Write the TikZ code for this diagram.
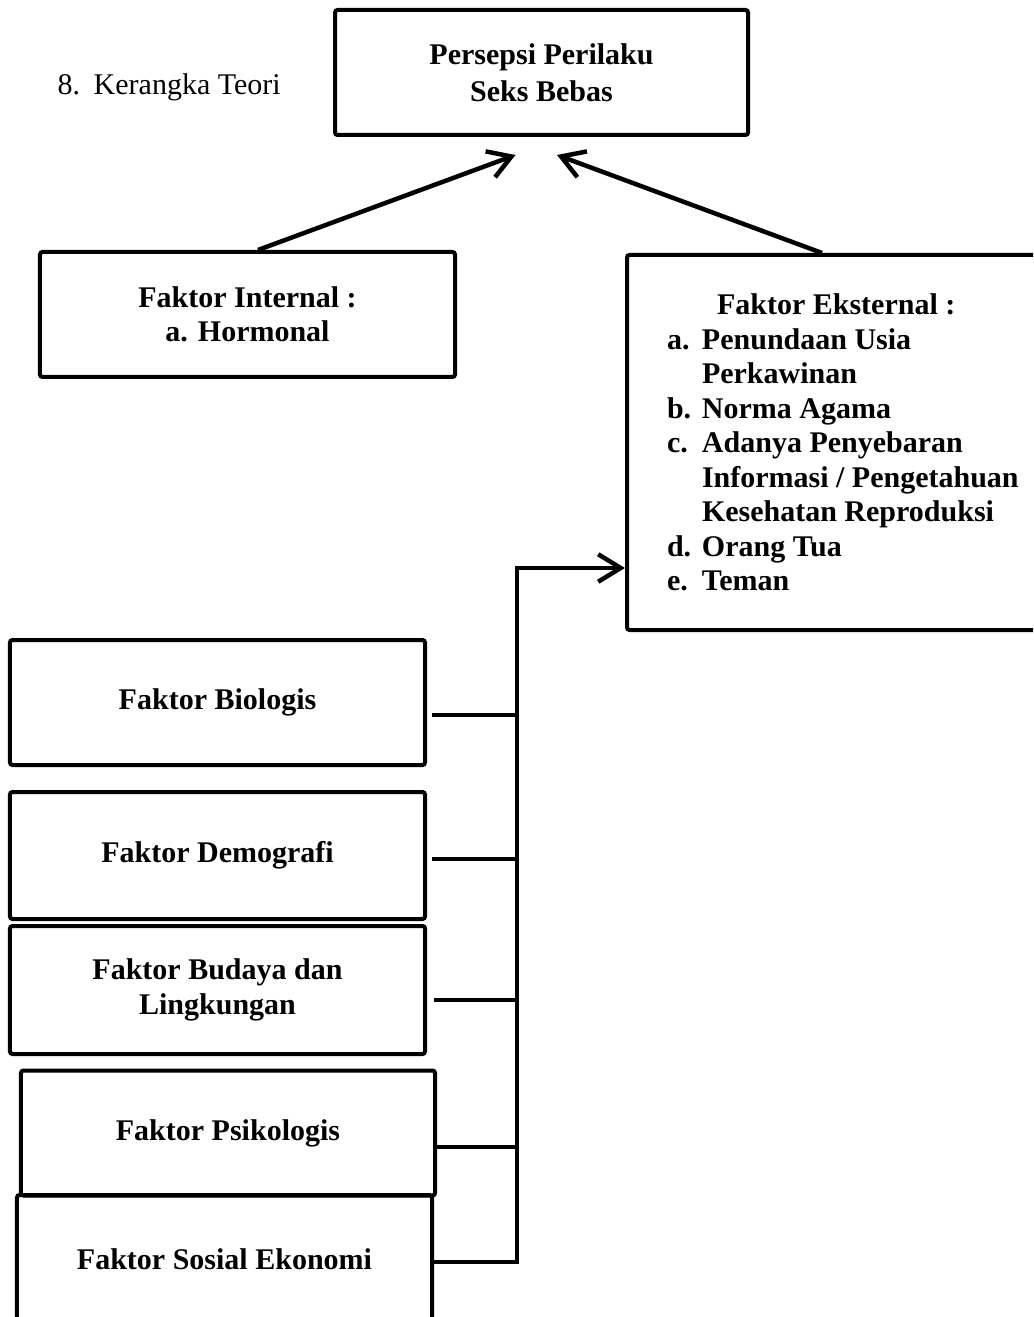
\documentclass[tikz,border=0pt]{standalone}
\usepackage{fontspec}
\setmainfont{Liberation Serif}
\usetikzlibrary{calc,arrows.meta}

\newcommand{\ukuran}{\fontsize{12}{13.8}\selectfont}
\newcommand{\butir}[2]{\makebox[14pt][l]{#1}#2}

\begin{document}
\begin{tikzpicture}[x=0.4pt, y=-0.4pt, font=\ukuran,
		kotak/.style={draw, line width=1.6pt, rounded corners=1pt, font=\ukuran\bfseries, align=center, inner sep=0pt, minimum width=166pt, minimum height=50pt},
		garis/.style={line width=1.8pt},
		panah/.style={line width=1.8pt, -{Straight Barb[length=9pt, width=11pt]}}]
			\useasboundingbox (0, 0) rectangle (1033, 1317);
			\clip (0, 0) rectangle (1033, 1317);
			\node[anchor=base west, inner sep=0pt] (judul) at (57, 95) {8.\hspace{5.5pt}Kerangka Teori};
			\node[kotak, minimum width=165.2pt] (persepsi) at (541.5, 72.5) {Persepsi Perilaku\\[1pt]Seks Bebas};
			\node[kotak] (internal) at (247.5, 314.5) {Faktor Internal :\\a. Hormonal};
			\node[kotak, anchor=north west, align=left, inner xsep=16pt, minimum height=150pt] (eksternal) at (625, 253) {%
				\hspace*{20pt}Faktor Eksternal :\\
				\butir{a.}{Penundaan Usia}\\
				\hspace*{14pt}Perkawinan\\
				\butir{b.}{Norma Agama}\\
				\butir{c.}{Adanya Penyebaran}\\
				\hspace*{14pt}Informasi / Pengetahuan\\
				\hspace*{14pt}Kesehatan Reproduksi\\
				\butir{d.}{Orang Tua}\\
				\butir{e.}{Teman}};
			\node[kotak] (biologis) at (217.5, 702.5) {Faktor Biologis};
			\node[kotak, minimum height=50.8pt] (demografi) at (217.5, 855.5) {Faktor Demografi};
			\node[kotak, minimum height=51.2pt] (budaya) at (217.5, 990) {Faktor Budaya dan\\Lingkungan};
			\node[kotak, minimum width=165.6pt] (psikologis) at (228, 1133) {Faktor Psikologis};
			\node[kotak, minimum height=51.6pt] (sosial) at (224.5, 1259.5) {Faktor Sosial Ekonomi};
			% arrows to the top box
			\draw[panah] ($(internal.north) + (10.5, 0)$) -- ($(persepsi.south) + (-26, 18)$);
			\draw[panah] ($(eksternal.north west) + (197, 0)$) -- ($(persepsi.south) + (15.5, 18)$);
			% bus from the factor boxes
			\coordinate (simpul) at (517, 568);
			\foreach \nama/\y/\celah in {biologis/715/5, demografi/859/5, budaya/1000/7, psikologis/1147/0} {
				\coordinate (c-\nama) at (517, \y);
				\draw[garis] ($(c-\nama -| \nama.east) + (\celah, 0)$) -- (c-\nama);
			}
			\coordinate (c-sosial) at (517, 1262);
			\draw[panah] (c-sosial -| sosial.east) -- (c-sosial) -- (simpul) -- (simpul -| eksternal.west);
\end{tikzpicture}
\end{document}
